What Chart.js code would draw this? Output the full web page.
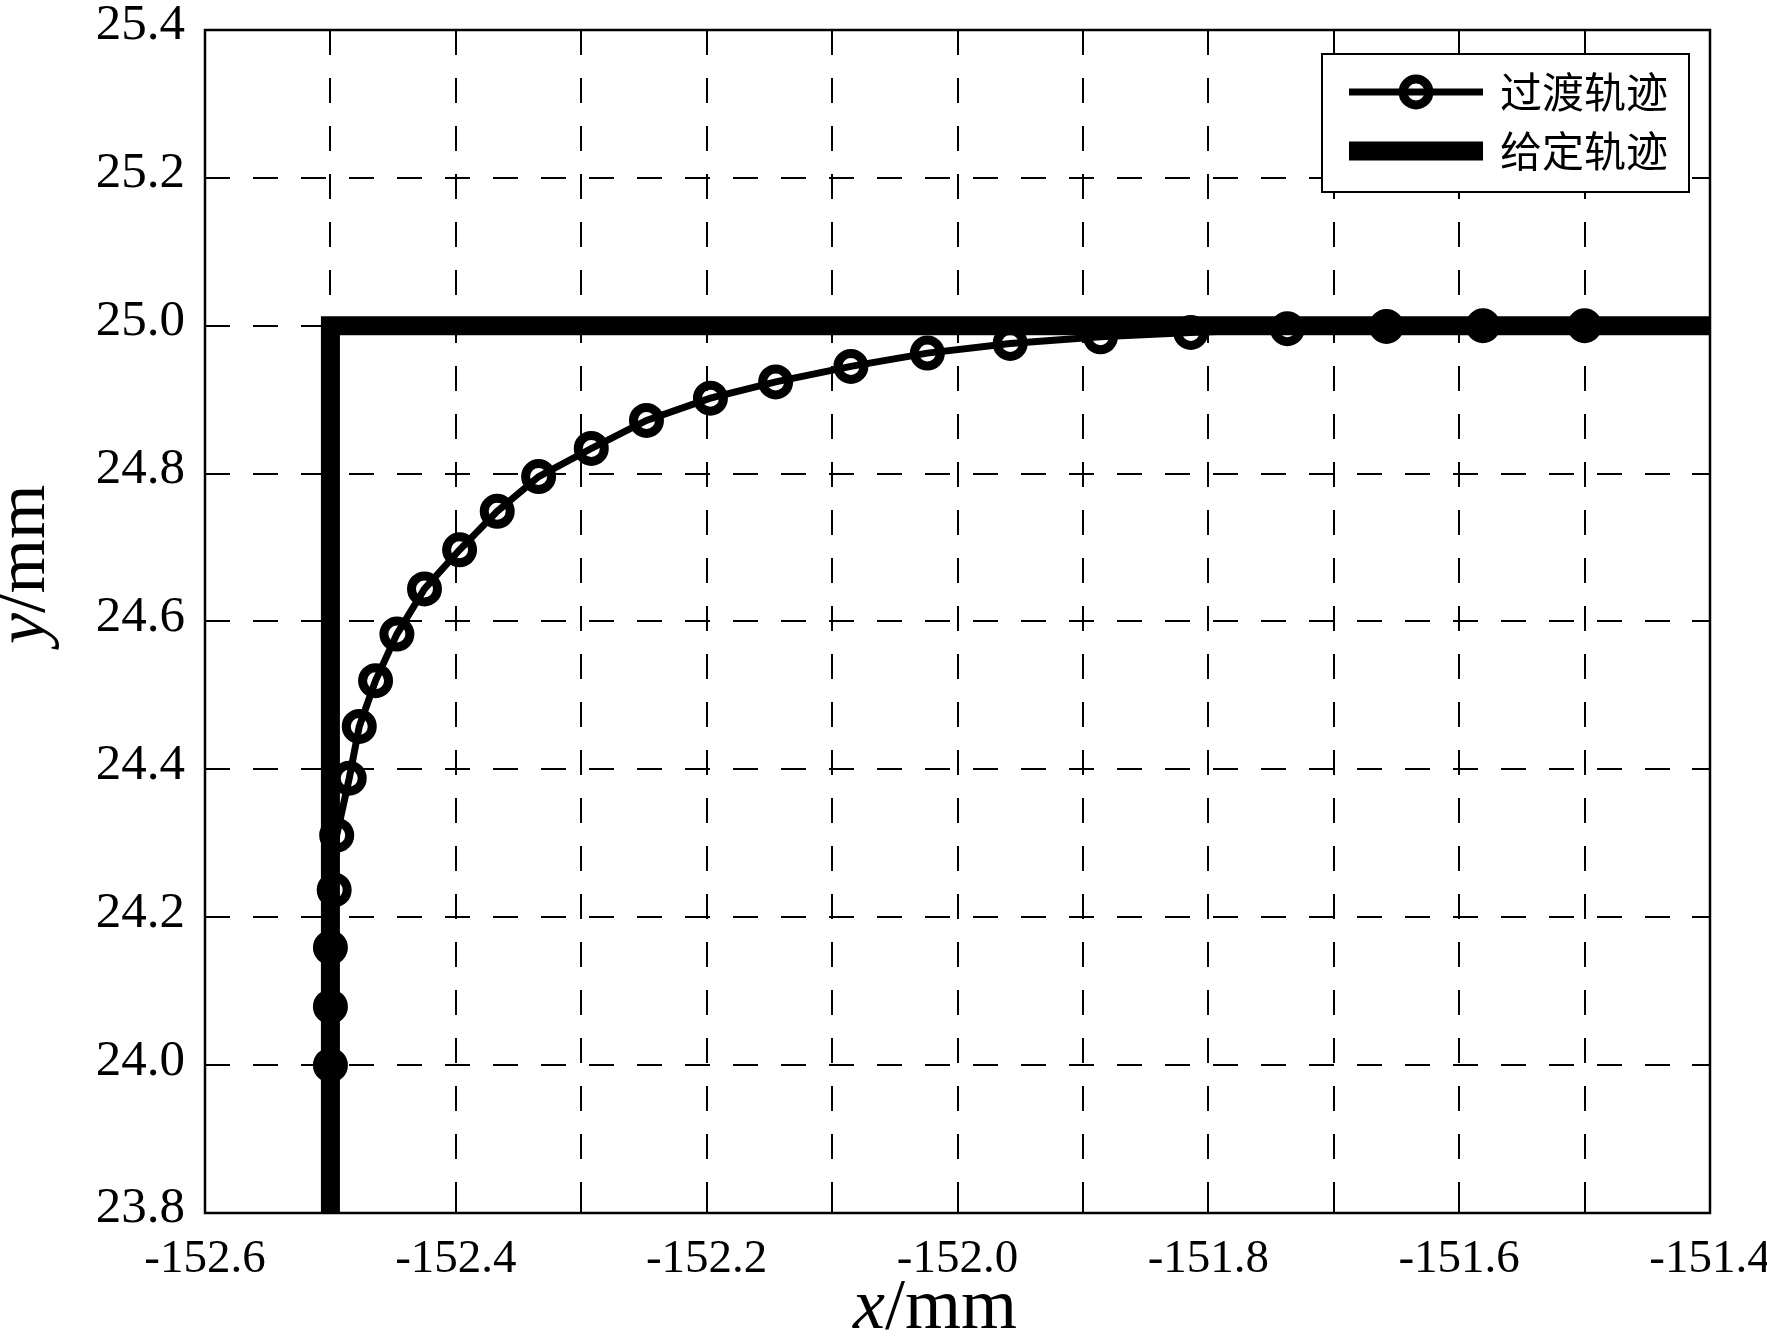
<!DOCTYPE html>
<html>
<head>
<meta charset="utf-8">
<script src="https://cdn.jsdelivr.net/npm/chart.js@4.4.1/dist/chart.umd.min.js"></script>
<style>
html, body { margin: 0; padding: 0; background: #fff; }
#wrap { width: 1767px; height: 1339px; }
</style>
</head>
<body>
<div id="wrap"><canvas id="grafico-trajetoria" width="1767" height="1339"></canvas></div>
<script>
// 过渡轨迹 - pontos
const transX = [-152.500, -152.500, -152.500, -152.497, -152.495, -152.485, -152.477, -152.464, -152.447,
                -152.425, -152.397, -152.367, -152.334, -152.292, -152.248, -152.197, -152.145, -152.085,
                -152.024, -151.958, -151.886, -151.814, -151.737, -151.658, -151.581, -151.500];
const transY = [24.000, 24.079, 24.159, 24.237, 24.311, 24.388, 24.458, 24.520, 24.583,
                24.644, 24.697, 24.749, 24.796, 24.834, 24.872, 24.902, 24.924, 24.945,
                24.963, 24.976, 24.985, 24.991, 24.996, 24.999, 25.000, 25.000];

// 给定轨迹 - canto reto
const givenX = [-152.5, -152.5, -151.4];
const givenY = [23.8, 25.0, 25.0];

const seriesNames = ['过渡轨迹', '给定轨迹'];

// Limites e passos dos eixos
const xRange = [-152.6, -151.4];
const xStep = 0.1;
const yRange = [23.8, 25.4];
const yStep = 0.2;

const serif = '"Liberation Serif", "Times New Roman", serif';
const cjk = '"Noto Sans CJK SC", sans-serif';

const toPoints = (xs, ys) => xs.map((x, i) => ({ x: x, y: ys[i] }));

// Moldura, marcas internas, títulos dos eixos e legenda
const estiloMatlab = {
    id: 'estiloMatlab',
    afterDraw(chart) {
        const ctx = chart.ctx;
        const a = chart.chartArea;
        const sx = chart.scales.x;
        const sy = chart.scales.y;
        const tick = 18;

        ctx.save();
        ctx.strokeStyle = '#000';
        ctx.lineWidth = 2;
        ctx.setLineDash([]);

        // marcas para dentro nos quatro lados
        ctx.beginPath();
        sx.ticks.forEach(t => {
            const px = Math.round(sx.getPixelForValue(t.value));
            ctx.moveTo(px, a.bottom); ctx.lineTo(px, a.bottom - tick);
            ctx.moveTo(px, a.top); ctx.lineTo(px, a.top + tick);
        });
        sy.ticks.forEach(t => {
            const py = Math.round(sy.getPixelForValue(t.value));
            ctx.moveTo(a.left, py); ctx.lineTo(a.left + tick, py);
            ctx.moveTo(a.right, py); ctx.lineTo(a.right - tick, py);
        });
        ctx.stroke();

        // caixa dos eixos
        ctx.lineWidth = 2.5;
        ctx.strokeRect(a.left, a.top, a.right - a.left, a.bottom - a.top);

        // título do eixo x: "x" itálico + "/mm"
        ctx.fillStyle = '#000';
        ctx.textBaseline = 'alphabetic';
        ctx.textAlign = 'left';
        let x0 = 853;
        ctx.font = 'italic 72px ' + serif;
        ctx.fillText('x', x0, 1328);
        x0 += ctx.measureText('x').width;
        ctx.font = '72px ' + serif;
        ctx.fillText('/mm', x0, 1328);

        // título do eixo y, girado
        ctx.save();
        ctx.translate(44, 644);
        ctx.rotate(-Math.PI / 2);
        ctx.font = 'italic 70px ' + serif;
        ctx.fillText('y', 0, 0);
        const w = ctx.measureText('y').width;
        ctx.font = '70px ' + serif;
        ctx.fillText('/mm', w, 0);
        ctx.restore();

        // legenda
        const box = { l: 1322, t: 54, r: 1689, b: 192 };
        ctx.fillStyle = '#fff';
        ctx.fillRect(box.l, box.t, box.r - box.l, box.b - box.t);
        ctx.lineWidth = 2;
        ctx.strokeStyle = '#000';
        ctx.strokeRect(box.l, box.t, box.r - box.l, box.b - box.t);

        const rows = [92, 151];
        const ds = chart.data.datasets;
        rows.forEach((ry, i) => {
            const d = ds[i];
            ctx.beginPath();
            ctx.lineWidth = d.borderWidth;
            ctx.lineCap = 'butt';
            ctx.moveTo(1349, ry); ctx.lineTo(1483, ry);
            ctx.stroke();
            if (d.pointRadius > 0) {
                ctx.beginPath();
                ctx.lineWidth = d.pointBorderWidth;
                ctx.arc(1416, ry, d.pointRadius, 0, Math.PI * 2);
                ctx.stroke();
            }
            ctx.fillStyle = '#000';
            ctx.font = '42px ' + cjk;
            ctx.textBaseline = 'middle';
            ctx.fillText(d.label, 1500, ry);
        });
        ctx.restore();
    }
};

const ctx = document.getElementById('grafico-trajetoria').getContext('2d');

new Chart(ctx, {
    type: 'scatter',
    data: {
        datasets: [{
            label: seriesNames[0],
            data: toPoints(transX, transY),
            showLine: true,
            borderColor: '#000',
            borderWidth: 7,
            pointRadius: 13,
            pointBorderWidth: 9,
            pointBorderColor: '#000',
            pointBackgroundColor: 'rgba(0,0,0,0)',
            pointHoverRadius: 13,
            tension: 0
        }, {
            label: seriesNames[1],
            data: toPoints(givenX, givenY),
            showLine: true,
            borderColor: '#000',
            borderWidth: 19,
            borderJoinStyle: 'miter',
            borderCapStyle: 'butt',
            pointRadius: 0,
            pointHoverRadius: 0,
            tension: 0
        }]
    },
    options: {
        responsive: false,
        devicePixelRatio: 1,
        animation: false,
        events: [],
        layout: {
            padding: { top: 30, right: 57, left: 0, bottom: 0 }
        },
        plugins: {
            legend: { display: false },
            tooltip: { enabled: false }
        },
        scales: {
            x: {
                type: 'linear',
                min: xRange[0],
                max: xRange[1],
                afterBuildTicks: scale => {
                    const n = Math.round((xRange[1] - xRange[0]) / xStep);
                    scale.ticks = [];
                    for (let i = 0; i <= n; i++) {
                        scale.ticks.push({ value: +(xRange[0] + i * xStep).toFixed(1) });
                    }
                },
                afterFit: scale => {
                    scale.height = 126;
                    scale.paddingLeft = 0;
                    scale.paddingRight = 0;
                },
                grid: {
                    color: '#000',
                    lineWidth: 2,
                    drawTicks: false
                },
                border: { display: false, dash: [25, 23] },
                ticks: {
                    color: '#000',
                    padding: 18,
                    maxRotation: 0,
                    autoSkip: false,
                    font: { family: serif, size: 47 },
                    callback: v => (Math.round(v * 10) % 2 === 0 ? v.toFixed(1) : '')
                }
            },
            y: {
                type: 'linear',
                min: yRange[0],
                max: yRange[1],
                afterBuildTicks: scale => {
                    const n = Math.round((yRange[1] - yRange[0]) / yStep);
                    scale.ticks = [];
                    for (let i = 0; i <= n; i++) {
                        scale.ticks.push({ value: +(yRange[0] + i * yStep).toFixed(1) });
                    }
                },
                afterFit: scale => {
                    scale.width = 205;
                    scale.paddingTop = 0;
                    scale.paddingBottom = 0;
                },
                grid: {
                    color: '#000',
                    lineWidth: 2,
                    drawTicks: false
                },
                border: { display: false, dash: [25, 23] },
                ticks: {
                    color: '#000',
                    padding: 20,
                    labelOffset: -4,
                    autoSkip: false,
                    font: { family: serif, size: 51 },
                    callback: v => v.toFixed(1)
                }
            }
        }
    },
    plugins: [estiloMatlab]
});
</script>
</body>
</html>
